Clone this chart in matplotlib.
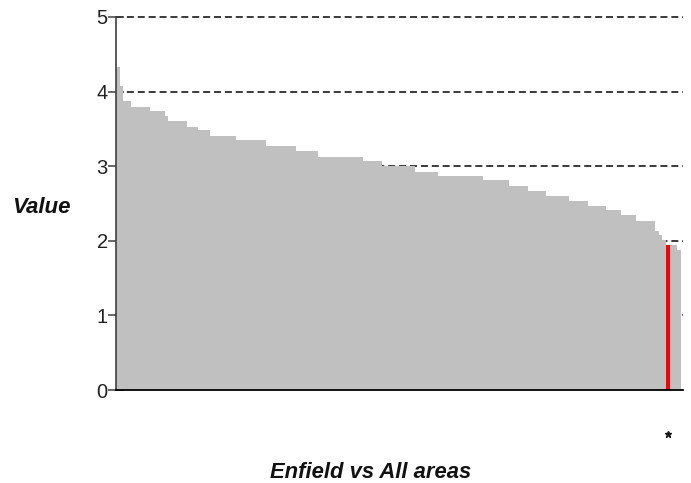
import matplotlib
matplotlib.use("Agg")
import matplotlib.pyplot as plt
from matplotlib.transforms import blended_transform_factory

# ---- data ----
areas_values = (
    [4.33, 4.07] + [3.88] * 2 + [3.80] * 5 + [3.74] * 4 + [3.67] * 1 +
    [3.61] * 5 + [3.53] * 3 + [3.48] * 3 + [3.40] * 7 + [3.35] * 8 +
    [3.27] * 8 + [3.21] * 6 + [3.13] * 12 + [3.07] * 5 + [3.00] * 9 +
    [2.92] * 6 + [2.87] * 12 + [2.81] * 7 + [2.73] * 5 + [2.67] * 5 +
    [2.60] * 6 + [2.53] * 5 + [2.47] * 5 + [2.41] * 4 + [2.34] * 4 +
    [2.27] * 5 + [2.13, 2.08, 2.01] + [1.94] + [1.94] * 2 + [1.88]
)
highlight_index = 147          # Enfield
highlight_label = "Enfield"
y_ticks = [0, 1, 2, 3, 4, 5]
title_text = "Enfield vs All areas"
ylabel_text = "Value"

# ---- figure ----
W, H = 691, 483
fig = plt.figure(figsize=(W / 100, H / 100), dpi=100)
ax = fig.add_axes([116 / W, (H - 390) / H, (683 - 116) / W, (390 - 17) / H])

n = len(areas_values)
colors = ["#c0c0c0"] * n
colors[highlight_index] = "#ff0000"
xs = list(range(n))
ax.bar(xs, areas_values, width=1.0, align="edge", color=colors,
       edgecolor="none", zorder=2)

ax.set_xlim(0, n + 0.5)
ax.set_ylim(0, 5)
ax.set_yticks(y_ticks)
ax.set_yticklabels([str(t) for t in y_ticks], fontsize=14.5,
                   family="Liberation Sans", color="#222222")
ax.set_xticks([])

for t in y_ticks[1:]:
    ax.axhline(t, color="#3a3a3a", linewidth=1.4,
               linestyle=(0, (3.6, 2.0)), zorder=1, clip_on=False)

ax.tick_params(axis="y", direction="inout", length=12, width=1.1,
               color="#404040", pad=0)

for s in ["top", "right"]:
    ax.spines[s].set_visible(False)
ax.spines["left"].set_color("#404040")
ax.spines["left"].set_linewidth(1.2)
ax.spines["left"].set_zorder(3)
ax.spines["bottom"].set_color("#000000")
ax.spines["bottom"].set_linewidth(1.3)
ax.spines["bottom"].set_zorder(3)

# star marker under highlighted bar
tr = blended_transform_factory(ax.transData, ax.transAxes)
ax.plot([highlight_index + 0.5], [(390 - 434) / 373], marker="*",
        markersize=5, color="#1a1a1a", transform=tr, clip_on=False,
        linestyle="none")

fig.text(41 / W, 1 - 207.5 / H, ylabel_text, fontsize=16, fontweight="bold",
         fontstyle="italic", family="Liberation Sans", ha="center",
         va="center", color="#111111")
fig.text(370.5 / W, 1 - 473 / H, title_text, fontsize=15.8, fontweight="bold",
         fontstyle="italic", family="Liberation Sans", ha="center",
         va="center", color="#111111")

fig.savefig("out.png", dpi=100)
